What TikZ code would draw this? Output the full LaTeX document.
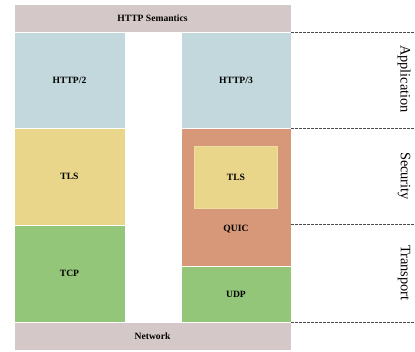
\documentclass[tikz,border=0pt]{standalone}
\usepackage{fontspec}
\setmainfont{Liberation Serif}
\definecolor{semc}{HTML}{D5C8C8}
\definecolor{appc}{HTML}{C2D8DC}
\definecolor{tlsc}{HTML}{E9D68A}
\definecolor{tcpc}{HTML}{94C67A}
\definecolor{quicc}{HTML}{D69878}
\begin{document}
\begin{tikzpicture}[x=1pt,y=-1pt,
  layer/.style={draw=white,line width=0.8pt},
  lbl/.style={font=\bfseries\fontsize{9.6}{11}\selectfont},
  sep/.style={draw=black!70,dash pattern=on 2.5pt off 1.5pt,line width=0.7pt},
  side/.style={rotate=-90,font=\fontsize{14.4}{16}\selectfont}]
\useasboundingbox (0,0) rectangle (415,352);
\path[layer,fill=semc] (14,4) rectangle (291,32);
\node[lbl] (sem) at (152.5,18) {HTTP Semantics};
\path[layer,fill=appc] (14,32) rectangle (125,128);
\node[lbl] (h2) at (69.5,80) {HTTP/2};
\path[layer,fill=appc] (181,32) rectangle (291,128);
\node[lbl] (h3) at (236,80) {HTTP/3};
\path[layer,fill=tlsc] (14,128) rectangle (125,225);
\node[lbl] (tls1) at (69.5,176.5) {TLS};
\path[layer,fill=tcpc] (14,225) rectangle (125,322);
\node[lbl] (tcp) at (69.5,273) {TCP};
\path[layer,fill=quicc] (181,128) rectangle (291,266);
\path[draw=tlsc!80!white,line width=0.5pt,fill=tlsc] (194.5,146.5) rectangle (277.5,208);
\node[lbl] (tls2) at (236,177) {TLS};
\node[lbl] (quic) at (236,229) {QUIC};
\path[layer,fill=tcpc] (181,266) rectangle (291,322);
\node[lbl] (udp) at (236,294) {UDP};
\path[layer,fill=semc] (14,322) rectangle (291,350);
\node[lbl] (net) at (152.5,336) {Network};
\coordinate (d1a) at (291,32); \coordinate (d1b) at (415,32);
\coordinate (d2a) at (291,128); \coordinate (d2b) at (415,128);
\coordinate (d3a) at (291,224.5); \coordinate (d3b) at (415,224.5);
\coordinate (d4a) at (291,322); \coordinate (d4b) at (415,322);
\draw[sep] (d1a) -- (d1b);
\draw[sep] (d2a) -- (d2b);
\draw[sep] (d3a) -- (d3b);
\draw[sep] (d4a) -- (d4b);
\node[side] (app) at (404,79) {Application};
\node[side] (secu) at (404,176) {Security};
\node[side] (trans) at (404,273) {Transport};
\end{tikzpicture}
\end{document}
